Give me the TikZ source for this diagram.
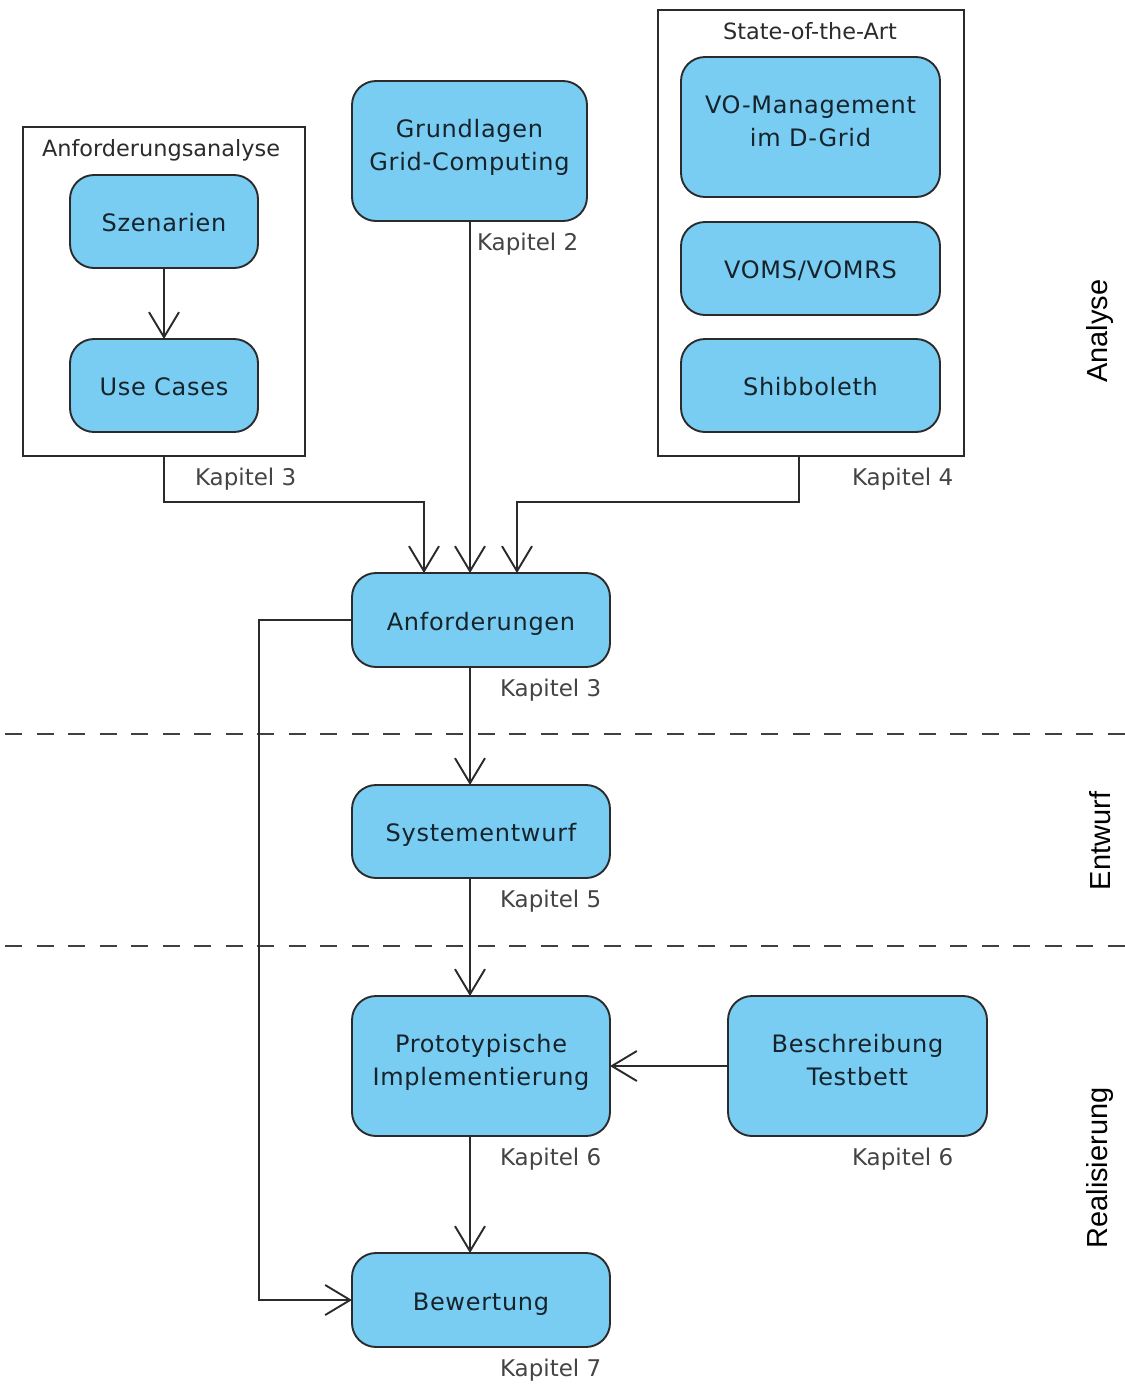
\documentclass[tikz,border=0pt]{standalone}
\usepackage{fontspec}
\setmainfont{DejaVu Sans}
\newfontfamily\boxfont{DejaVu Sans}[LetterSpace=3]
\newfontfamily\sidefont{Liberation Sans}
\usetikzlibrary{arrows.meta,calc}
\definecolor{boxfill}{HTML}{79CDF2}
\definecolor{boxtext}{HTML}{16232B}
\definecolor{linecol}{HTML}{2B2B2B}
\definecolor{kapcol}{HTML}{444444}
% one- and two-line box captions, placed on the optical centre of the box
\newcommand\oneline[1]{\raisebox{-10.3pt}[0pt][0pt]{#1}}
\newcommand\twolines[2]{\raisebox{-2.5pt}[0pt][0pt]{\begin{tabular}{@{}c@{}}#1\\#2\end{tabular}}}
\begin{document}
\begin{tikzpicture}[x=1pt,y=-1pt,
  every node/.style={inner sep=0pt, outer sep=0pt},
  actbox/.style={draw=linecol, line width=1.9pt, fill=boxfill, rounded corners=24pt,
    text=boxtext, align=center, font=\boxfont\fontsize{24}{32.5}\selectfont},
  frame/.style={draw=linecol, line width=1.9pt},
  frametitle/.style={text=linecol, font=\fontsize{22.4}{27}\selectfont, anchor=base},
  kap/.style={text=kapcol, font=\fontsize{23}{27}\selectfont, anchor=base west},
  side/.style={rotate=90, font=\sidefont\fontsize{29}{34}\selectfont},
  conn/.style={draw=linecol, line width=1.9pt},
  arr/.style={conn, -{Straight Barb[length=25pt,width=30pt,line width=1.9pt]}},
  sep/.style={draw=linecol!90, line width=1.9pt, dash pattern=on 17pt off 14.5pt}]
\useasboundingbox (0,0) rectangle (1125,1385);

% phase separators
\draw[sep] (5,734) -- (1125,734);
\draw[sep] (5,946) -- (1125,946);

% grouping frames
\node[frame, minimum width=282, minimum height=329] (fanf) at (164,291.5) {};
\node[frame, minimum width=306, minimum height=446] (fsota) at (811,233) {};
\node[frametitle] at ($(fanf.north)+(-3,29)$) {Anforderungsanalyse};
\node[frametitle] at ($(fsota.north)+(-1,29)$) {State-of-the-Art};

% activities
\node[actbox, minimum width=188, minimum height=93] (szen) at (164,221.5) {\oneline{Szenarien}};
\node[actbox, minimum width=188, minimum height=93] (usec) at (164,385.5) {\oneline{Use Cases}};
\node[actbox, minimum width=235, minimum height=140] (grund) at (469.5,151) {\twolines{Grundlagen}{Grid-Computing}};
\node[actbox, minimum width=259, minimum height=140] (vomg) at (810.5,127) {\twolines{VO-Management}{im D-Grid}};
\node[actbox, minimum width=259, minimum height=93] (voms) at (810.5,268.5) {\oneline{VOMS/VOMRS}};
\node[actbox, minimum width=259, minimum height=93] (shib) at (810.5,385.5) {\oneline{Shibboleth}};
\node[actbox, minimum width=258, minimum height=94] (anf) at (481,620) {\oneline{Anforderungen}};
\node[actbox, minimum width=258, minimum height=93] (sys) at (481,831.5) {\oneline{Systementwurf}};
\node[actbox, minimum width=258, minimum height=140] (proto) at (481,1066) {\twolines{Prototypische}{Implementierung}};
\node[actbox, minimum width=259, minimum height=140] (besch) at (857.5,1066) {\twolines{Beschreibung}{Testbett}};
\node[actbox, minimum width=258, minimum height=94] (bew) at (481,1300) {\oneline{Bewertung}};

% chapter references
\node[kap] (k2) at ($(grund.south)+(7.5,29.5)$) {Kapitel 2};
\node[kap] (k3a) at ($(fanf.south east)+(-110,29.5)$) {Kapitel 3};
\node[kap] (k4) at ($(fsota.south east)+(-112,29.5)$) {Kapitel 4};
\node[kap] (k3b) at ($(anf.south east)+(-110,29.5)$) {Kapitel 3};
\node[kap] (k5) at ($(sys.south east)+(-110,29.5)$) {Kapitel 5};
\node[kap] (k6a) at ($(proto.south east)+(-110,29.5)$) {Kapitel 6};
\node[kap] (k6b) at ($(besch.south east)+(-135,29.5)$) {Kapitel 6};
\node[kap] (k7) at ($(bew.south east)+(-110,29.5)$) {Kapitel 7};

% phase labels
\node[side] (ph1) at (1100,331) {Analyse};
\node[side] (ph2) at (1100,841) {Entwurf};
\node[side] (ph3) at (1100,1168) {Realisierung};

% flow
\coordinate (bus) at (0,502);
\coordinate (inL) at ($(anf.north)+(-57,0)$);
\coordinate (inR) at ($(anf.north)+(36,0)$);
\coordinate (outR) at ($(fsota.south)+(-12,0)$);
\coordinate (spine) at ($(grund.south)+(0.5,0)$);
\draw[arr] (szen.south) -- (usec.north);
\draw[arr] (fanf.south) |- (inL |- bus) -- (inL);
\draw[arr] (spine) -- (spine |- anf.north);
\draw[arr] (outR) |- (inR |- bus) -- (inR);
\draw[arr] (spine |- anf.south) -- (spine |- sys.north);
\draw[arr] (spine |- sys.south) -- (spine |- proto.north);
\draw[arr] (spine |- proto.south) -- (spine |- bew.north);
\draw[arr] (besch.west) -- (proto.east);
\draw[arr] (anf.west) -- ++(-93,0) |- (bew.west);
\end{tikzpicture}
\end{document}
